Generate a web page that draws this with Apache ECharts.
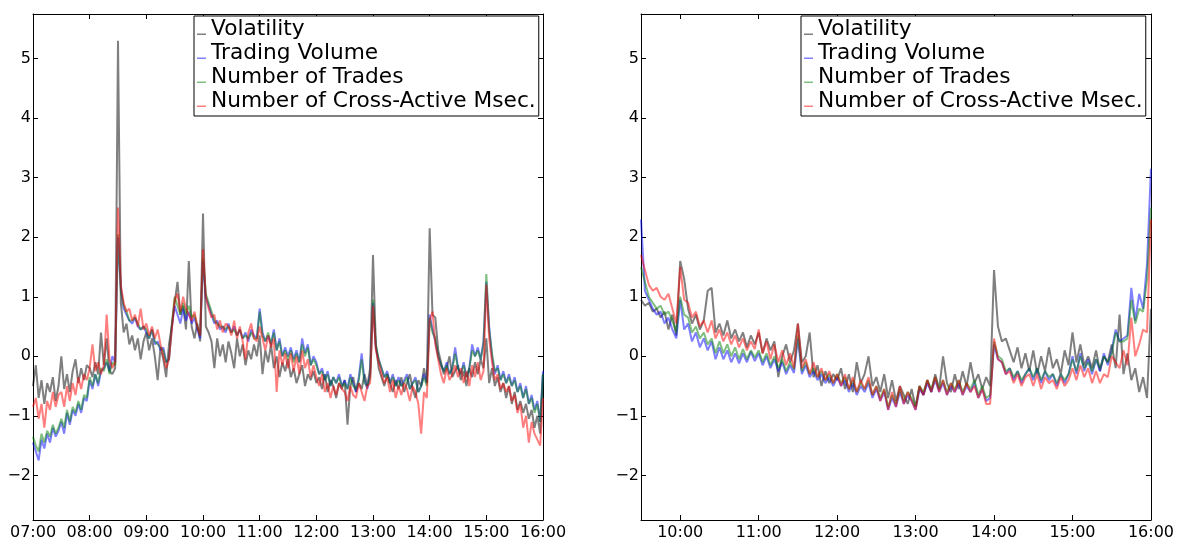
<!DOCTYPE html>
<html><head><meta charset="utf-8">
<script src="https://cdn.jsdelivr.net/npm/echarts@6/dist/echarts.min.js"></script>
<style>html,body{margin:0;padding:0;background:#fff}#c{width:1177px;height:541px}</style>
</head><body><div id="c"></div>
<script>
// ---------- data ----------
const seriesNames = ['Volatility', 'Trading Volume', 'Number of Trades', 'Number of Cross-Active Msec.'];
const seriesColors = ['rgba(0,0,0,0.5)', 'rgba(0,0,255,0.5)', 'rgba(0,128,0,0.5)', 'rgba(255,0,0,0.5)'];
const yTickValues = [-2, -1, 0, 1, 2, 3, 4, 5];
const leftXTickValues = [420, 480, 540, 600, 660, 720, 780, 840, 900, 960];   // 07:00 .. 16:00 (minutes)
const rightXTickValues = [600, 660, 720, 780, 840, 900, 960];                // 10:00 .. 16:00
const leftStartMin = 420, rightStartMin = 570, endMin = 960, stepMin = 3;

// Left panel (07:00 .. 16:00, every 3 minutes, one row = 30 min)
const leftVolatility = [
 -0.5,-0.15,-0.7,-0.4,-0.8,-0.45,-0.6,-0.35,-0.75,-0.5,
 0.0,-0.55,-0.3,-0.6,-0.25,-0.05,-0.45,-0.2,-0.4,-0.15,
 -0.2,-0.35,-0.1,-0.3,0.4,-0.15,0.3,-0.25,-0.3,-0.2,
 5.3,0.9,0.4,0.55,0.2,0.35,0.1,0.3,-0.05,0.25,
 0.4,0.1,0.3,0.0,-0.4,0.15,-0.05,-0.35,0.2,0.5,
 0.9,1.25,0.7,0.85,0.45,1.6,0.5,0.3,0.55,0.25,
 2.4,0.5,0.4,0.25,-0.2,0.3,0.0,0.2,-0.1,0.25,
 0.05,-0.2,0.3,0.0,0.2,-0.15,0.1,-0.05,0.2,0.0,
 0.35,-0.3,0.1,-0.1,0.2,-0.2,0.0,-0.35,-0.1,-0.25,
 -0.05,-0.35,-0.2,-0.45,-0.3,-0.15,-0.5,-0.3,-0.4,-0.25,
 -0.45,-0.35,-0.55,-0.3,-0.6,-0.4,-0.5,-0.7,-0.45,-0.55,
 -0.4,-1.15,-0.5,-0.35,-0.6,-0.45,-0.55,-0.3,-0.5,-0.2,
 1.7,0.2,-0.2,-0.35,-0.5,-0.3,-0.45,-0.6,-0.4,-0.55,
 -0.35,-0.6,-0.45,-0.3,-0.55,-0.7,-0.4,-0.5,-0.2,-0.45,
 2.15,0.7,0.65,0.1,-0.1,-0.3,-0.2,0.0,-0.35,-0.25,
 -0.15,-0.4,-0.25,-0.5,-0.2,-0.35,-0.1,-0.3,-0.05,-0.2,
 0.3,-0.45,-0.2,-0.5,-0.35,-0.6,-0.45,-0.7,-0.5,-0.8,
 -0.6,-0.9,-0.75,-0.95,-0.8,-1.05,-0.9,-1.2,-1.0,-1.3,
 -0.3
];
const leftVolume = [
 -1.45,-1.6,-1.75,-1.4,-1.55,-1.3,-1.45,-1.2,-1.35,-1.25,
 -1.1,-1.3,-0.95,-1.15,-0.9,-1.0,-0.8,-0.95,-0.7,-0.75,
 -0.4,-0.55,-0.3,-0.5,-0.25,-0.2,-0.1,-0.25,0.0,-0.1,
 2.0,1.15,0.8,0.7,0.6,0.55,0.65,0.5,0.45,0.5,
 0.4,0.3,0.45,0.2,0.25,0.1,0.15,-0.1,-0.05,0.5,
 0.85,0.7,0.55,0.8,0.6,0.75,0.55,0.65,0.45,0.3,
 1.6,1.0,0.85,0.7,0.55,0.6,0.45,0.5,0.4,0.55,
 0.4,0.5,0.35,0.45,0.3,0.4,0.25,0.45,0.35,0.3,
 0.8,0.4,0.25,0.35,0.2,0.45,0.1,0.3,0.0,0.15,
 0.0,0.15,-0.05,0.1,-0.1,0.3,0.05,0.2,-0.15,0.0,
 -0.1,-0.3,-0.2,-0.4,-0.25,-0.5,-0.35,-0.45,-0.3,-0.5,
 -0.4,-0.55,-0.3,-0.45,-0.6,-0.35,0.05,-0.4,-0.55,-0.3,
 0.9,0.15,-0.05,-0.2,-0.35,-0.25,-0.45,-0.3,-0.5,-0.35,
 -0.5,-0.4,-0.3,-0.55,-0.45,-0.35,-0.6,-0.5,-0.3,-0.45,
 0.7,0.45,0.25,0.0,-0.15,-0.25,-0.1,-0.3,-0.2,0.15,
 -0.2,-0.3,-0.1,-0.35,-0.2,0.2,0.0,0.15,-0.05,0.25,
 1.25,0.5,0.0,-0.3,-0.15,-0.4,-0.25,-0.45,-0.3,-0.5,
 -0.35,-0.6,-0.45,-0.7,-0.5,-0.8,-0.65,-0.9,-0.75,-1.1,
 -0.25
];
const leftTrades = [
 -1.35,-1.5,-1.6,-1.3,-1.45,-1.25,-1.35,-1.15,-1.3,-1.2,
 -1.05,-1.2,-0.9,-1.1,-0.85,-0.95,-0.75,-0.9,-0.65,-0.7,
 -0.35,-0.5,-0.3,-0.45,-0.2,-0.25,-0.05,-0.3,-0.1,-0.15,
 2.05,1.1,0.85,0.75,0.6,0.6,0.65,0.55,0.45,0.5,
 0.45,0.3,0.45,0.25,0.2,0.15,0.1,-0.1,-0.05,0.55,
 1.0,0.85,0.7,0.9,0.7,0.85,0.65,0.7,0.5,0.35,
 1.65,1.05,0.9,0.75,0.6,0.55,0.5,0.5,0.45,0.5,
 0.4,0.45,0.35,0.45,0.3,0.35,0.3,0.4,0.3,0.3,
 0.75,0.35,0.25,0.4,0.2,0.4,0.1,0.25,0.0,0.1,
 -0.05,0.1,-0.1,0.05,-0.1,0.2,0.0,0.15,-0.15,-0.05,
 -0.15,-0.3,-0.25,-0.4,-0.3,-0.5,-0.35,-0.45,-0.35,-0.5,
 -0.45,-0.55,-0.35,-0.5,-0.55,-0.4,-0.05,-0.45,-0.5,-0.35,
 0.95,0.2,-0.05,-0.2,-0.35,-0.3,-0.45,-0.35,-0.5,-0.4,
 -0.5,-0.45,-0.35,-0.55,-0.45,-0.4,-0.6,-0.5,-0.35,-0.5,
 0.65,0.4,0.3,0.0,-0.15,-0.25,-0.15,-0.3,-0.2,0.05,
 -0.2,-0.3,-0.15,-0.35,-0.2,0.1,0.0,0.1,-0.05,0.2,
 1.38,0.45,0.05,-0.25,-0.2,-0.4,-0.3,-0.45,-0.35,-0.5,
 -0.4,-0.6,-0.5,-0.7,-0.55,-0.8,-0.7,-0.95,-0.8,-1.1,
 -0.3
];
const leftCross = [
 -0.85,-0.7,-1.05,-0.8,-1.2,-0.75,-0.9,-0.6,-0.85,-0.65,
 -0.6,-0.85,-0.5,-0.75,-0.45,-0.65,-0.35,-0.55,-0.3,-0.4,
 -0.2,0.2,-0.25,-0.1,-0.3,-0.15,0.7,-0.05,-0.2,-0.1,
 2.5,1.2,0.9,0.75,0.8,0.6,0.7,0.5,0.8,0.45,
 0.55,0.35,0.5,0.3,0.45,0.2,0.0,-0.2,-0.05,0.45,
 0.95,1.05,0.75,1.0,0.8,0.7,0.6,0.75,0.5,0.35,
 1.8,1.0,0.8,0.65,0.7,0.45,0.6,0.4,0.55,0.5,
 0.35,0.6,0.3,0.5,0.25,-0.05,0.4,0.55,0.3,0.25,
 0.5,0.3,0.1,0.35,0.15,0.3,-0.6,0.1,-0.15,0.05,
 -0.2,0.05,-0.25,0.0,-0.3,0.1,-0.2,-0.05,-0.35,-0.15,
 -0.35,-0.5,-0.3,-0.6,-0.45,-0.7,-0.5,-0.65,-0.45,-0.55,
 -0.6,-0.75,-0.5,-0.65,-0.7,-0.45,-0.6,-0.75,-0.5,-0.45,
 0.85,0.1,-0.1,-0.3,-0.45,-0.35,-0.6,-0.4,-0.7,-0.5,
 -0.65,-0.45,-0.55,-0.75,-0.5,-0.6,-0.8,-1.3,-0.6,-0.7,
 0.6,0.75,0.2,-0.05,-0.3,-0.45,-0.2,-0.4,-0.3,-0.15,
 -0.35,-0.2,-0.45,-0.25,-0.5,-0.15,-0.35,-0.1,-0.4,-0.25,
 1.2,0.3,-0.1,-0.4,-0.3,-0.55,-0.45,-0.6,-0.5,-0.75,
 -0.65,-0.95,-0.8,-1.2,-1.0,-1.45,-1.1,-1.3,-1.4,-1.5,
 -0.7
];

// Right panel (09:30 .. 16:00, every 3 minutes, one row = 30 min)
const rightVolatility = [
 0.95,0.85,0.9,0.75,0.8,0.65,0.75,0.45,0.7,0.35,
 1.6,1.3,0.8,0.55,0.7,0.45,0.6,1.1,1.15,0.4,
 0.55,0.35,0.6,0.3,0.45,0.25,0.4,0.15,0.35,0.2,
 0.4,0.05,0.3,0.1,0.25,-0.35,0.0,0.2,-0.1,0.1,
 0.55,-0.1,0.0,0.4,-0.35,-0.15,-0.5,-0.25,-0.45,-0.3,
 -0.4,-0.2,-0.55,-0.3,-0.6,-0.1,-0.45,-0.3,0.0,-0.5,
 -0.35,-0.6,-0.3,-0.7,-0.4,-0.75,-0.5,-0.65,-0.8,-0.55,
 -0.85,-0.5,-0.65,-0.4,-0.6,-0.3,-0.55,0.0,-0.45,-0.6,
 -0.3,-0.55,-0.25,-0.5,-0.1,-0.45,-0.3,-0.55,-0.35,-0.5,
 1.45,0.5,0.25,0.3,0.1,-0.1,0.15,-0.2,0.05,-0.25,
 0.1,-0.3,0.0,-0.25,0.15,-0.2,-0.05,-0.3,0.1,-0.15,
 0.4,-0.1,0.2,-0.15,0.0,-0.2,0.1,-0.25,0.0,-0.1,
 0.2,-0.2,0.7,-0.3,0.05,-0.4,-0.2,-0.6,-0.35,-0.7,
 0.8
];
const rightVolume = [
 2.3,1.1,0.95,0.8,0.7,0.75,0.55,0.65,0.45,0.3,
 0.95,0.45,0.55,0.25,0.4,0.15,0.3,0.1,0.25,-0.05,
 0.15,-0.05,0.1,-0.1,0.05,-0.12,0.05,-0.1,0.08,-0.08,
 0.05,-0.15,0.0,-0.2,-0.05,-0.25,-0.1,-0.3,-0.15,-0.28,
 0.3,-0.3,-0.15,-0.35,-0.25,-0.4,-0.3,-0.45,-0.35,-0.5,
 -0.35,-0.5,-0.4,-0.6,-0.45,-0.65,-0.5,-0.6,-0.45,-0.7,
 -0.55,-0.75,-0.6,-0.9,-0.7,-0.85,-0.6,-0.8,-0.65,-0.75,
 -0.9,-0.55,-0.65,-0.45,-0.6,-0.4,-0.6,-0.45,-0.65,-0.5,
 -0.6,-0.45,-0.65,-0.5,-0.6,-0.45,-0.7,-0.55,-0.75,-0.7,
 0.2,-0.05,-0.1,-0.3,-0.2,-0.4,-0.25,-0.45,-0.3,-0.2,
 -0.4,-0.2,-0.45,-0.25,-0.4,-0.3,-0.5,-0.3,-0.45,-0.3,
 0.0,-0.3,0.05,-0.25,-0.05,-0.3,-0.05,-0.25,0.05,-0.15,
 0.1,0.45,0.25,0.3,0.35,1.15,0.6,1.05,0.8,1.55,
 3.15
];
const rightTrades = [
 1.5,1.25,1.0,0.9,0.8,0.85,0.7,0.75,0.6,0.4,
 1.0,0.7,0.65,0.4,0.5,0.3,0.4,0.2,0.3,0.05,
 0.25,0.05,0.2,0.0,0.15,-0.05,0.12,-0.05,0.1,-0.02,
 0.1,-0.1,0.05,-0.15,0.0,-0.2,-0.05,-0.25,-0.1,-0.22,
 0.35,-0.25,-0.1,-0.3,-0.2,-0.35,-0.25,-0.4,-0.3,-0.45,
 -0.3,-0.45,-0.35,-0.55,-0.4,-0.6,-0.45,-0.55,-0.4,-0.65,
 -0.5,-0.7,-0.55,-0.85,-0.65,-0.8,-0.55,-0.75,-0.6,-0.7,
 -0.85,-0.5,-0.6,-0.4,-0.55,-0.35,-0.55,-0.4,-0.6,-0.45,
 -0.55,-0.4,-0.6,-0.45,-0.55,-0.4,-0.65,-0.5,-0.7,-0.65,
 0.25,0.0,-0.05,-0.25,-0.2,-0.35,-0.25,-0.4,-0.3,-0.2,
 -0.35,-0.2,-0.4,-0.25,-0.35,-0.3,-0.45,-0.3,-0.4,-0.3,
 -0.05,-0.25,0.0,-0.2,-0.1,-0.25,-0.05,-0.2,0.0,-0.1,
 0.05,0.4,0.25,0.25,0.3,0.95,0.55,0.8,0.75,1.3,
 2.5
];
const rightCross = [
 1.7,1.45,1.2,1.1,1.15,1.0,0.95,1.05,0.8,0.55,
 1.5,0.95,0.9,0.65,0.75,0.5,0.6,0.4,0.6,0.3,
 0.45,0.25,0.4,0.2,0.35,0.15,0.3,0.1,0.25,0.12,
 0.45,0.05,0.25,-0.05,0.2,-0.1,0.1,-0.15,0.05,-0.2,
 0.55,-0.2,-0.05,-0.3,-0.1,-0.35,-0.2,-0.4,-0.25,-0.45,
 -0.3,-0.5,-0.3,-0.55,-0.35,-0.6,-0.4,-0.55,-0.35,-0.65,
 -0.5,-0.75,-0.55,-0.9,-0.6,-0.85,-0.5,-0.8,-0.6,-0.75,
 -0.9,-0.5,-0.65,-0.4,-0.6,-0.35,-0.6,-0.4,-0.65,-0.45,
 -0.6,-0.4,-0.65,-0.45,-0.6,-0.5,-0.7,-0.55,-0.8,-0.8,
 0.3,-0.05,-0.1,-0.3,-0.25,-0.45,-0.3,-0.5,-0.35,-0.3,
 -0.5,-0.3,-0.55,-0.35,-0.45,-0.4,-0.55,-0.35,-0.5,-0.4,
 -0.2,-0.4,-0.15,-0.35,-0.2,-0.45,-0.25,-0.45,-0.3,-0.35,
 0.0,-0.1,-0.2,0.1,-0.15,0.65,0.0,0.2,0.45,0.4,
 2.3
];

// ---------- chart ----------
const FONT = 'DejaVu Sans';
const Y_MIN = -2.75, Y_MAX = 5.75;
function hhmm(v) {
  const h = Math.floor(v / 60), m = Math.round(v % 60);
  return String(h).padStart(2, '0') + ':' + String(m).padStart(2, '0');
}
function yfmt(v) { return v < 0 ? '\u2212' + (-v) : String(v); }
function pairs(start, arr) { return arr.map((v, i) => [start + i * stepMin, v]); }

const grids = [
  { left: 33, width: 510, top: 14, height: 506 },
  { left: 641, width: 510, top: 14, height: 506 }
];
const xRanges = [[leftStartMin, endMin, leftXTickValues], [rightStartMin, endMin, rightXTickValues]];

const xAxes = [], yAxes = [];
xRanges.forEach((r, gi) => {
  const base = {
    type: 'value', gridIndex: gi, min: r[0], max: r[1],
    axisLine: { show: true, onZero: false, lineStyle: { color: '#000', width: 1 } },
    axisTick: { show: true, inside: true, length: 5, customValues: r[2], lineStyle: { color: '#000' } },
    splitLine: { show: false }
  };
  xAxes.push(Object.assign({}, base, {
    position: 'bottom',
    axisLabel: { show: true, customValues: r[2], formatter: hhmm, color: '#000', fontFamily: FONT, fontSize: 16, margin: 5 }
  }));
  xAxes.push(Object.assign({}, base, { position: 'top', axisLabel: { show: false } }));
  const ybase = {
    type: 'value', gridIndex: gi, min: Y_MIN, max: Y_MAX,
    axisLine: { show: true, onZero: false, lineStyle: { color: '#000', width: 1 } },
    axisTick: { show: true, inside: true, length: 5, customValues: yTickValues, lineStyle: { color: '#000' } },
    splitLine: { show: false }
  };
  yAxes.push(Object.assign({}, ybase, {
    position: 'left',
    axisLabel: { show: true, customValues: yTickValues, formatter: yfmt, color: '#000', fontFamily: FONT, fontSize: 16, margin: 2 }
  }));
  yAxes.push(Object.assign({}, ybase, { position: 'right', axisLabel: { show: false } }));
});

const panelData = [
  [leftStartMin, [leftVolatility, leftVolume, leftTrades, leftCross]],
  [rightStartMin, [rightVolatility, rightVolume, rightTrades, rightCross]]
];
const series = [];
panelData.forEach((p, gi) => {
  p[1].forEach((arr, si) => {
    series.push({
      type: 'line', name: seriesNames[si],
      xAxisIndex: gi * 2, yAxisIndex: gi * 2,
      data: pairs(p[0], arr),
      showSymbol: false, symbol: 'none',
      lineStyle: { color: seriesColors[si], width: 2 },
      itemStyle: { color: seriesColors[si] },
      emphasis: { disabled: true },
      z: 2 + si
    });
  });
});

const legendIcon = 'path://M0,0L0.05,0L0.05,0.05L0,0.05Z M0,9.5L9,9.5L9,11L0,11Z';
const legends = [194, 801].map(left => ({
  orient: 'vertical', left: left, top: 16,
  data: seriesNames.map(n => ({ name: n, icon: legendIcon })),
  itemWidth: 9, itemHeight: 11, itemGap: 1,
  padding: [2, 3, 3, 3],
  borderColor: '#000', borderWidth: 1, borderRadius: 0,
  backgroundColor: '#fff',
  textStyle: { fontFamily: FONT, fontSize: 21.7, color: '#000', lineHeight: 23 },
  selectedMode: false
}));

const chart = echarts.init(document.getElementById('c'), null, { renderer: 'canvas' });
chart.setOption({
  animation: false,
  backgroundColor: '#fff',
  grid: grids,
  xAxis: xAxes,
  yAxis: yAxes,
  legend: legends,
  series: series
});
</script>
</body></html>
